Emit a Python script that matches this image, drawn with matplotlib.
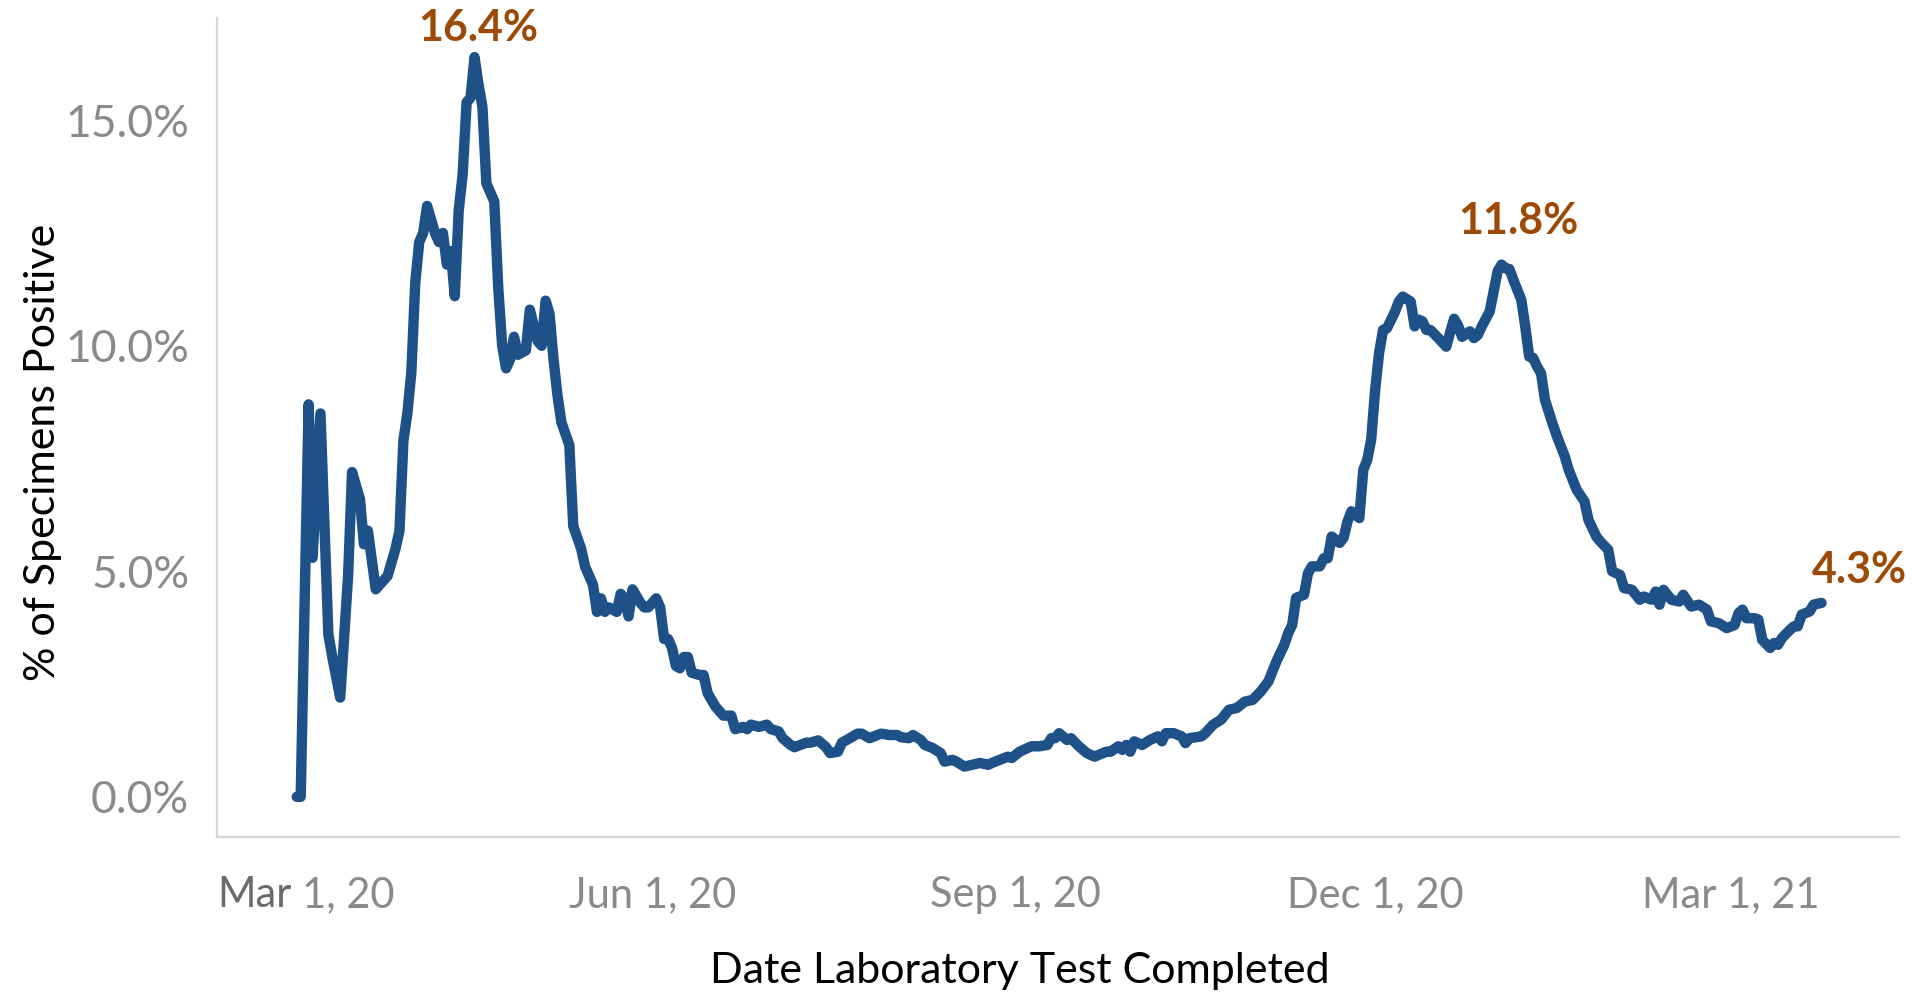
import pandas as pd
import matplotlib
matplotlib.use('Agg')
import matplotlib.pyplot as plt
from matplotlib.transforms import IdentityTransform

plt.rcParams['font.family'] = ['Lato', 'DejaVu Sans']

# day offsets from Mar 1, 2020 and % of specimens positive
start_date = pd.Timestamp('2020-03-01')
days = [2, 3, 5, 6, 8, 10, 11, 13, 15, 16,
        18, 19, 20, 22, 24, 25, 27, 28, 29, 30,
        31, 32, 33, 34, 35, 37, 38, 39, 40, 41,
        42, 43, 44, 45, 46, 47, 48, 49, 50, 52,
        53, 54, 55, 56, 57, 58, 60, 61, 63, 64,
        65, 66, 67, 68, 69, 71, 72, 74, 75, 77,
        78, 79, 80, 81, 83, 84, 85, 86, 87, 89,
        90, 91, 93, 94, 95, 96, 97, 98, 99, 100,
        101, 102, 104, 105, 106, 107, 108, 110, 112, 113,
        115, 116, 117, 119, 121, 122, 124, 125, 127, 128,
        131, 132, 134, 136, 137, 139, 140, 142, 144, 145,
        147, 149, 150, 152, 154, 155, 157, 158, 160, 161,
        163, 165, 166, 168, 169, 171, 173, 175, 177, 178,
        180, 182, 183, 185, 188, 190, 192, 193, 194, 195,
        197, 198, 200, 202, 204, 205, 207, 208, 210, 211,
        212, 213, 214, 216, 218, 220, 221, 222, 224, 226,
        227, 228, 231, 232, 234, 236, 238, 240, 242, 244,
        246, 248, 250, 252, 253, 254, 255, 257, 258, 259,
        261, 262, 263, 264, 266, 267, 268, 269, 271, 272,
        273, 274, 275, 276, 277, 278, 280, 281, 282, 284,
        285, 286, 287, 288, 289, 291, 293, 294, 295, 296,
        297, 299, 300, 301, 302, 304, 305, 306, 307, 308,
        309, 310, 312, 313, 314, 315, 316, 317, 318, 320,
        321, 323, 324, 326, 328, 329, 331, 332, 334, 335,
        337, 338, 340, 342, 343, 345, 346, 347, 348, 350,
        352, 353, 355, 357, 359, 360, 362, 364, 366, 367,
        368, 369, 371, 372, 373, 375, 376, 377, 378, 380,
        381, 382, 383, 385, 386, 388]
pct = [0.0, 0.0, 8.7, 5.3, 8.5, 3.6, 3.1, 2.2, 4.9, 7.2,
       6.6, 5.6, 5.9, 4.6, 4.8, 4.9, 5.5, 5.9, 7.9, 8.5,
       9.4, 11.4, 12.3, 12.5, 13.1, 12.5, 12.3, 12.5, 11.8, 12.1,
       11.1, 13.0, 13.8, 15.4, 15.5, 16.4, 15.8, 15.3, 13.6, 13.2,
       11.3, 10.0, 9.5, 9.7, 10.2, 9.8, 9.9, 10.8, 10.1, 10.0,
       11.0, 10.7, 9.7, 8.9, 8.3, 7.8, 6.0, 5.5, 5.1, 4.7,
       4.1, 4.4, 4.1, 4.2, 4.1, 4.5, 4.4, 4.0, 4.6, 4.3,
       4.2, 4.2, 4.4, 4.2, 3.5, 3.5, 3.3, 2.9, 2.85, 3.1,
       3.1, 2.75, 2.7, 2.7, 2.3, 2.15, 2.0, 1.8, 1.8, 1.5,
       1.55, 1.5, 1.6, 1.55, 1.6, 1.5, 1.45, 1.3, 1.15, 1.1,
       1.2, 1.2, 1.25, 1.1, 0.97, 1.0, 1.2, 1.3, 1.4, 1.4,
       1.3, 1.37, 1.4, 1.37, 1.37, 1.32, 1.3, 1.37, 1.26, 1.15,
       1.08, 0.97, 0.78, 0.82, 0.78, 0.67, 0.71, 0.75, 0.71, 0.75,
       0.82, 0.89, 0.86, 1.0, 1.12, 1.12, 1.15, 1.3, 1.3, 1.41,
       1.26, 1.3, 1.12, 0.97, 0.89, 0.93, 1.0, 1.0, 1.12, 1.04,
       1.15, 1.0, 1.23, 1.15, 1.26, 1.34, 1.23, 1.41, 1.41, 1.34,
       1.19, 1.3, 1.34, 1.41, 1.6, 1.71, 1.93, 1.97, 2.11, 2.15,
       2.33, 2.56, 3.0, 3.37, 3.63, 3.81, 4.41, 4.48, 4.96, 5.11,
       5.11, 5.29, 5.29, 5.77, 5.63, 5.74, 6.1, 6.33, 6.18, 7.25,
       7.47, 7.92, 9.02, 9.84, 10.35, 10.39, 10.75, 10.98, 11.09, 10.98,
       10.43, 10.58, 10.54, 10.35, 10.35, 10.17, 9.98, 10.3, 10.6, 10.45,
       10.2, 10.32, 10.17, 10.24, 10.43, 10.76, 11.2, 11.65, 11.8, 11.72,
       11.7, 11.46, 11.02, 10.43, 9.76, 9.73, 9.54, 9.39, 8.8, 8.25,
       8.0, 7.55, 7.25, 6.81, 6.55, 6.14, 5.77, 5.66, 5.48, 5.0,
       4.92, 4.63, 4.59, 4.37, 4.44, 4.37, 4.55, 4.26, 4.59, 4.37,
       4.33, 4.48, 4.22, 4.26, 4.15, 3.89, 3.85, 3.74, 3.81, 4.07,
       4.15, 3.96, 3.96, 3.93, 3.48, 3.30, 3.41, 3.37, 3.52, 3.70,
       3.78, 3.78, 4.04, 4.11, 4.26, 4.3]

tick_dates = ['2020-03-01', '2020-06-01', '2020-09-01', '2020-12-01', '2021-03-01']
tick_labels = ['Mar 1, 20', 'Jun 1, 20', 'Sep 1, 20', 'Dec 1, 20', 'Mar 1, 21']
y_ticks = [0, 5, 10, 15]
y_tick_labels = ['0.0%', '5.0%', '10.0%', '15.0%']

# colours
line_color = '#1F5189'
label_color = '#9C4A06'
tick_color = '#8A8A8A'
axis_color = '#D6D6D6'

dates = start_date + pd.to_timedelta(days, unit='D')
s = pd.Series(pct, index=dates)

fig = plt.figure(figsize=(19.15, 9.94), dpi=100)
ax = fig.add_axes([0.1133, 0.158, 0.8783, 0.824])

ax.plot(s.index, s.values, color=line_color, lw=7.5,
        solid_joinstyle='round', solid_capstyle='round')

ax.set_xlim(start_date - pd.Timedelta(days=18.2), start_date + pd.Timedelta(days=407.6))
ax.set_ylim(-0.89, 17.27)

# axes look
for side in ['top', 'right']:
    ax.spines[side].set_visible(False)
for side in ['left', 'bottom']:
    ax.spines[side].set_color(axis_color)
    ax.spines[side].set_linewidth(1.6)

ax.set_xticks(pd.to_datetime(tick_dates))
ax.set_xticklabels(tick_labels)
ax.set_yticks(y_ticks)
ax.set_yticklabels(y_tick_labels)
ax.tick_params(axis='both', length=0, labelcolor=tick_color)
ax.tick_params(axis='x', pad=28, labelsize=30)
ax.tick_params(axis='y', pad=20, labelsize=32)

# axis titles
fig.text(0.5326, 0.0231, 'Date Laboratory Test Completed', fontsize=31,
         ha='center', va='center', color='black')
fig.text(0.0225, 0.5453, '% of Specimens Positive', fontsize=31, rotation=90,
         ha='center', va='center', color='black')

# peak / latest labels
first_peak = s[s.index < '2020-08-01'].idxmax()
second_peak = s[s.index > '2020-10-01'].idxmax()
latest = s.index[-1]
offsets = {first_peak: (4, 16), second_peak: (17, 31), latest: (38, 20)}
for d, off in offsets.items():
    ax.annotate(f'{s[d]:.1f}%', xy=(d, s[d]), xytext=off, textcoords='offset pixels',
                ha='center', va='baseline', fontsize=31, fontweight='bold',
                color=label_color, annotation_clip=False)

# first tick label: kept inside the axis (starts at the spine), month drawn darker
fig.canvas.draw()
bb = ax.get_xticklabels()[0].get_window_extent()
ax.set_xticklabels([''] + tick_labels[1:])
left = ax.bbox.x0
month, rest = tick_labels[0].split(' ', 1)
fig.text(left, bb.y1, month, transform=IdentityTransform(), fontsize=30,
         color='#6A6A6A', ha='left', va='top')
fig.text(left + bb.width, bb.y1, rest, transform=IdentityTransform(), fontsize=30,
         color=tick_color, ha='right', va='top')

fig.savefig('out.png', dpi=100)
